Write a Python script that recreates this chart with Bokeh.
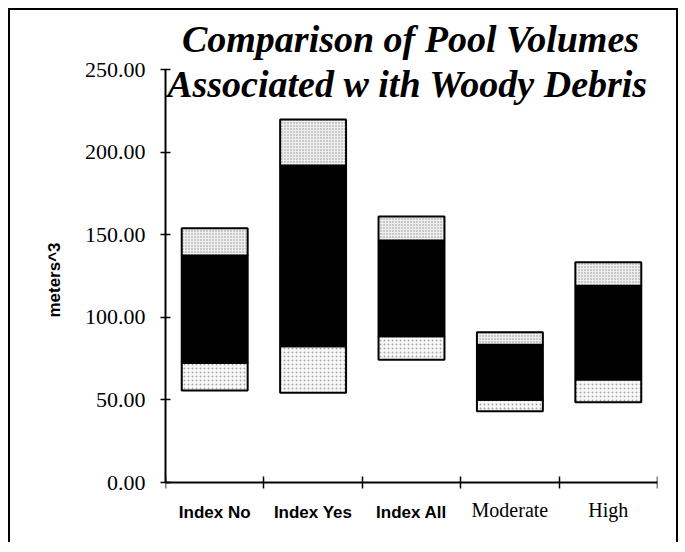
from bokeh.plotting import figure
from bokeh.models import (FactorRange, Range1d, LinearAxis, FixedTicker,
                          NumeralTickFormatter, Label, ColumnDataSource)
from bokeh.embed import file_html
from bokeh.resources import INLINE

# ---- data ----
categories = ["Index No", "Index Yes", "Index All", "Moderate", "High"]
low = [55.7, 54.3, 74.3, 43.2, 48.6]      # bottom of light lower segment
q1 = [72.5, 82.5, 88.6, 50.1, 62.3]       # bottom of black segment
q3 = [137.4, 191.9, 146.5, 83.4, 119.1]   # top of black segment
high = [153.9, 219.7, 161.0, 91.0, 133.4] # top of light upper segment
y_ticks = [0, 50, 100, 150, 200, 250]
title_lines = ["Comparison of Pool Volumes", "Associated w ith Woody Debris"]
y_label = "meters^3"
n_sans_labels = 3   # first three category labels are set in a bold sans font

SERIF = "Liberation Serif"
SANS = "Liberation Sans"

p = figure(width=670, height=534,
           x_range=FactorRange(*categories), y_range=Range1d(-37.53, 282.69),
           output_backend="svg", toolbar_location=None, x_axis_location=None,
           min_border_left=155, min_border_right=23, min_border_top=5,
           min_border_bottom=0)
p.styles = {"margin-left": "8px", "margin-top": "8px",
            "border-left": "2px solid black", "border-top": "2px solid black",
            "border-right": "2px solid black"}
p.outline_line_color = None
p.background_fill_color = "white"
p.border_fill_color = "white"
p.xgrid.grid_line_color = None
p.ygrid.grid_line_color = None

# y axis
ya = p.yaxis[0]
ya.ticker = FixedTicker(ticks=y_ticks)
ya.formatter = NumeralTickFormatter(format="0.00")
ya.bounds = (0, 250)
ya.minor_tick_line_color = None
ya.major_tick_in = 5
ya.major_tick_out = 5
ya.major_tick_line_width = 1.5
ya.axis_line_width = 2
ya.major_label_standoff = 15
ya.major_label_text_font = SERIF
ya.major_label_text_font_size = "22px"
ya.major_label_text_color = "black"
ya.axis_label = y_label
ya.axis_label_text_font = SANS
ya.axis_label_text_font_style = "bold"
ya.axis_label_text_font_size = "17px"
ya.axis_label_text_color = "black"
ya.axis_label_standoff = 18

# x axis: line + boundary ticks (minor) + bold sans labels at category centres
centres = [i + 0.5 for i in range(len(categories))]
bounds_ticks = list(range(len(categories) + 1))
xa = LinearAxis(fixed_location=0,
                ticker=FixedTicker(ticks=centres[:n_sans_labels], minor_ticks=bounds_ticks),
                major_label_overrides={t: c for t, c in zip(centres[:n_sans_labels],
                                                            categories[:n_sans_labels])})
xa.axis_line_width = 2
xa.major_tick_line_color = None
xa.major_tick_in = 0
xa.major_tick_out = 0
xa.minor_tick_in = 6
xa.minor_tick_out = 6
xa.minor_tick_line_width = 1.5
xa.minor_tick_line_color = "black"
xa.major_label_standoff = 14
xa.major_label_text_font = SANS
xa.major_label_text_font_style = "bold"
xa.major_label_text_font_size = "17px"
xa.major_label_text_color = "black"
p.add_layout(xa, "below")

xb = LinearAxis(fixed_location=0,
                ticker=FixedTicker(ticks=centres[n_sans_labels:]),
                major_label_overrides={t: c for t, c in zip(centres[n_sans_labels:],
                                                            categories[n_sans_labels:])})
xb.axis_line_color = None
xb.major_tick_line_color = None
xb.minor_tick_line_color = None
xb.major_tick_in = 0
xb.major_tick_out = 0
xb.major_label_standoff = 16
xb.major_label_text_font = SERIF
xb.major_label_text_font_size = "20px"
xb.major_label_text_color = "black"
p.add_layout(xb, "below")

src = ColumnDataSource(dict(cat=categories, low=low, q1=q1, q3=q3, high=high))
common = dict(x="cat", width=0.67, source=src, line_color="black", line_width=2)
p.vbar(bottom="low", top="q1", fill_color="#f8f8f8", hatch_pattern="dot",
       hatch_color="#a8a8a8", hatch_scale=4, hatch_weight=1, **common)
p.vbar(bottom="q1", top="q3", fill_color="black", **common)
p.vbar(bottom="q3", top="high", fill_color="#eeeeee", hatch_pattern="dot",
       hatch_color="#909090", hatch_scale=3, hatch_weight=1, **common)

# title (screen units measured from the bottom of the frame)
for txt, yb, xc in [(title_lines[0], 506, 245), (title_lines[1], 461, 242)]:
    p.add_layout(Label(x=xc, y=yb, x_units="screen", y_units="screen", text=txt,
                       text_align="center", text_baseline="alphabetic",
                       text_font=SERIF, text_font_style="bold italic",
                       text_font_size="38px", text_color="black"))

open("out.html", "w").write(file_html(p, INLINE))
